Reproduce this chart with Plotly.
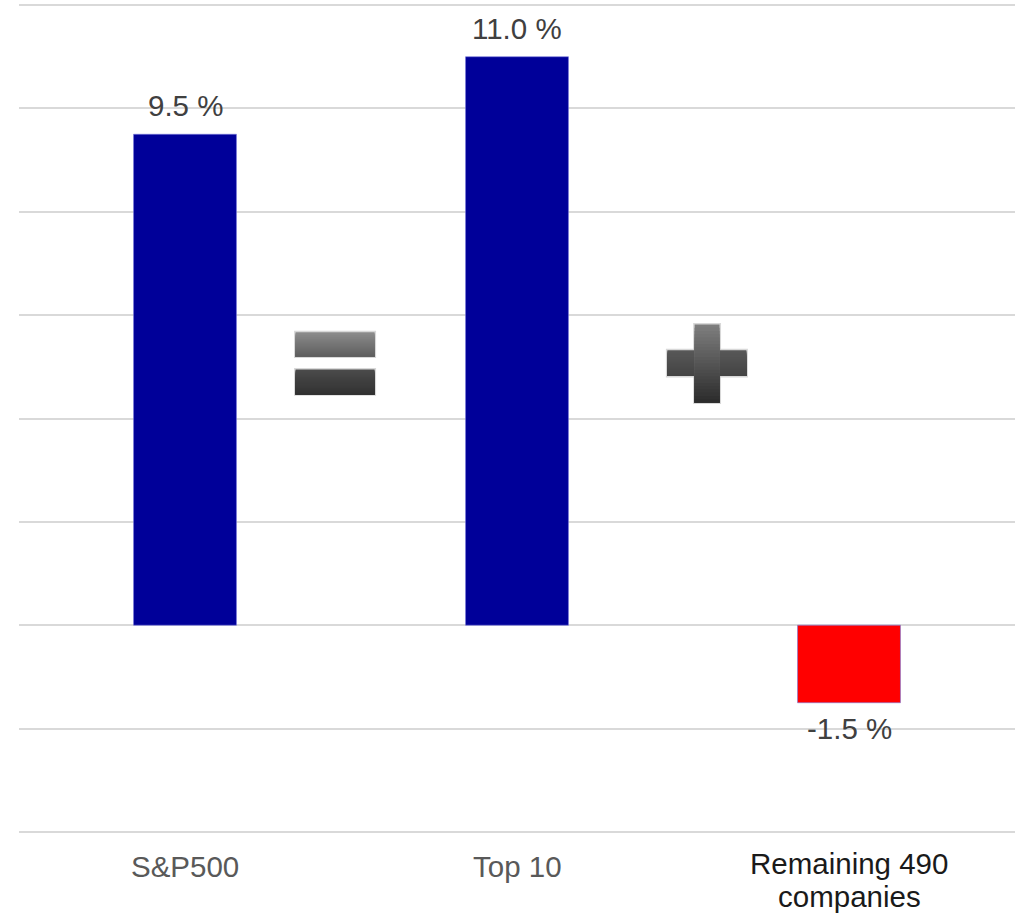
import plotly.graph_objects as go

categories = ["S&P500", "Top 10", "Remaining 490 companies"]
tick_labels = [["S&P500"], ["Top 10"], ["Remaining 490", "companies"]]
tick_colors = ["#595959", "#595959", "#1a1a1a"]
values = [9.5, 11.0, -1.5]
value_labels = ["9.5 %", "11.0 %", "-1.5 %"]
bar_colors = ["#000099", "#000099", "#FF0000"]

x_pos = list(range(len(categories)))

fig = go.Figure()
fig.add_trace(go.Bar(
    x=x_pos, y=values, width=0.31,
    marker=dict(color=bar_colors, line=dict(color="rgba(120,120,220,0.6)", width=1)),
    hoverinfo="skip", showlegend=False,
))

FONT = "Liberation Sans, Arial, sans-serif"

for xv, v, lab in zip(x_pos, values, value_labels):
    fig.add_annotation(
        x=xv, y=v, text=lab, showarrow=False, xref="x", yref="y",
        yanchor="bottom" if v >= 0 else "top",
        yshift=10 if v >= 0 else -7,
        font=dict(family=FONT, size=29.5, color="#404040"),
    )

# category labels below the plot (tight line spacing as in the reference)
for xv, lines, col in zip(x_pos, tick_labels, tick_colors):
    first = -33 if len(lines) == 1 else -30
    for j, line in enumerate(lines):
        fig.add_annotation(
            x=xv, y=0, xref="x", yref="paper", text=line, showarrow=False,
            yanchor="middle", yshift=first - 33 * j,
            font=dict(family=FONT, size=29.5, color=col),
        )

shapes = []

def outline(x0, x1, y0, y1):
    shapes.append(dict(type="rect", xref="x", yref="y", x0=x0, x1=x1, y0=y1, y1=y0,
                       fillcolor="rgba(0,0,0,0)",
                       line=dict(width=3, color="rgba(200,200,200,0.7)"), layer="above"))

def gradient_fill(x0, x1, y0, y1, c_top, c_bot, n=24):
    # y0 top value, y1 bottom value; each slice extends to the bottom to avoid seams
    for i in range(n):
        t = i / (n - 1)
        c = tuple(int(round(c_top[k] + (c_bot[k] - c_top[k]) * t)) for k in range(3))
        ya = y0 + (y1 - y0) * i / n
        shapes.append(dict(type="rect", xref="x", yref="y", x0=x0, x1=x1,
                           y0=y1, y1=ya, fillcolor="rgb(%d,%d,%d)" % c,
                           line=dict(width=0), layer="above"))

# "=" sign between first and second bars
eq_top = (0.333, 0.571, 5.67, 5.20)
eq_bot = (0.333, 0.571, 4.95, 4.47)
outline(*eq_top)
outline(*eq_bot)
gradient_fill(*eq_top, (140, 140, 140), (95, 95, 95))
gradient_fill(*eq_bot, (75, 75, 75), (50, 50, 50))

# "+" sign between second and third bars
pl_h = (1.453, 1.691, 5.32, 4.82)
pl_v = (1.535, 1.610, 5.82, 4.31)
outline(*pl_h)
outline(*pl_v)
gradient_fill(*pl_h, (88, 88, 88), (68, 68, 68))
gradient_fill(*pl_v, (125, 125, 125), (45, 45, 45))

fig.update_layout(
    width=1025, height=913,
    margin=dict(l=19, r=10, t=4, b=80),
    paper_bgcolor="white", plot_bgcolor="white",
    shapes=shapes,
    xaxis=dict(
        range=[-0.5, 2.5], tickmode="array", tickvals=x_pos,
        showticklabels=False,
        showgrid=False, zeroline=False, showline=False, ticks="",
        automargin=False, fixedrange=True,
    ),
    yaxis=dict(
        range=[-4.02, 12.02], dtick=2, tick0=0, showticklabels=False,
        showgrid=True, gridcolor="#d9d9d9", gridwidth=1.5,
        zeroline=True, zerolinecolor="#d9d9d9", zerolinewidth=1.5,
        showline=False, ticks="", fixedrange=True, automargin=False,
    ),
    font=dict(family=FONT),
)

fig.write_html("out.html")
